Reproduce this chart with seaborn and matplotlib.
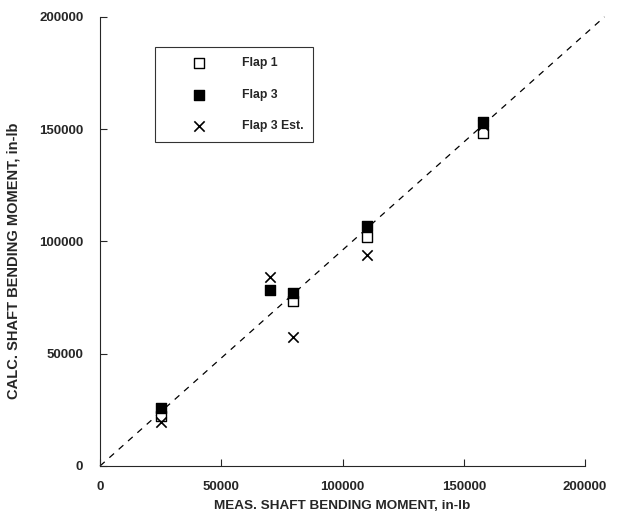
import matplotlib
matplotlib.use("Agg")
import matplotlib.pyplot as plt
import seaborn as sns
import pandas as pd

sns.set_theme(style="ticks")
plt.rcParams['font.family'] = ['Liberation Sans', 'DejaVu Sans']

# Data (in-lb)
flap1_meas = [25000, 79600, 110000, 158000]
flap1_calc = [22300, 73500, 102000, 148300]
flap3_meas = [25000, 70100, 79600, 110000, 158000]
flap3_calc = [25800, 78400, 77100, 106900, 153200]
flap3est_meas = [25000, 70100, 79600, 110000, 158000]
flap3est_calc = [19600, 84200, 57500, 94000, 151900]

ticks = [0, 50000, 100000, 150000, 200000]
tick_labels = ["0", "50000", "100000", "150000", "200000"]
ref_line_x = [0, 208000]
ref_line_y = [0, 200000]

df = pd.concat([
    pd.DataFrame({"meas": flap1_meas, "calc": flap1_calc, "series": "Flap 1"}),
    pd.DataFrame({"meas": flap3_meas, "calc": flap3_calc, "series": "Flap 3"}),
    pd.DataFrame({"meas": flap3est_meas, "calc": flap3est_calc, "series": "Flap 3 Est."}),
])

fig = plt.figure(figsize=(6.19, 5.21), dpi=100)
ax = fig.add_axes([0.1616, 0.1056, 0.7835, 0.862])

ax.plot(ref_line_x, ref_line_y, linestyle=(0, (5, 5)), color="black",
        linewidth=0.9, clip_on=False, zorder=1)

styles = {
    "Flap 1": dict(marker="s", facecolor="white", edgecolor="black", s=55, linewidth=1.0),
    "Flap 3": dict(marker="s", facecolor="black", edgecolor="black", s=55, linewidth=1.0),
    "Flap 3 Est.": dict(marker="x", color="black", s=55, linewidth=1.2),
}
for name, st in styles.items():
    sub = df[df["series"] == name]
    sns.scatterplot(data=sub, x="meas", y="calc", ax=ax, label=name, zorder=3,
                    clip_on=False, **st)

ax.set_xlim(0, 200000)
ax.set_ylim(0, 200000)
ax.set_xticks(ticks)
ax.set_xticklabels(tick_labels)
ax.set_yticks(ticks)
ax.set_yticklabels(tick_labels)
ax.tick_params(direction="in", length=5, width=0.8, labelsize=9.5)
ax.tick_params(axis="y", pad=12)
ax.tick_params(axis="x", pad=11)
for lab in ax.get_xticklabels() + ax.get_yticklabels():
    lab.set_fontweight("bold")

ax.spines["top"].set_visible(False)
ax.spines["right"].set_visible(False)
for sp in ["left", "bottom"]:
    ax.spines[sp].set_linewidth(0.8)

ax.set_xlabel("MEAS. SHAFT BENDING MOMENT, in-lb", fontsize=9.7, fontweight="bold", labelpad=5)
ax.set_ylabel("CALC. SHAFT BENDING MOMENT, in-lb", fontsize=10.5, fontweight="bold", labelpad=12)
ax.yaxis.set_label_coords(-0.165, 0.457)

leg = ax.legend(loc="upper left", bbox_to_anchor=(0.113, 0.932), frameon=True,
                fancybox=False, edgecolor="black", prop={"weight": "bold", "size": 8.8},
                borderpad=0.8, labelspacing=1.6, handletextpad=0.73, borderaxespad=0,
                handlelength=5.6)
leg.get_frame().set_linewidth(0.8)

fig.savefig("out.png", dpi=100)
